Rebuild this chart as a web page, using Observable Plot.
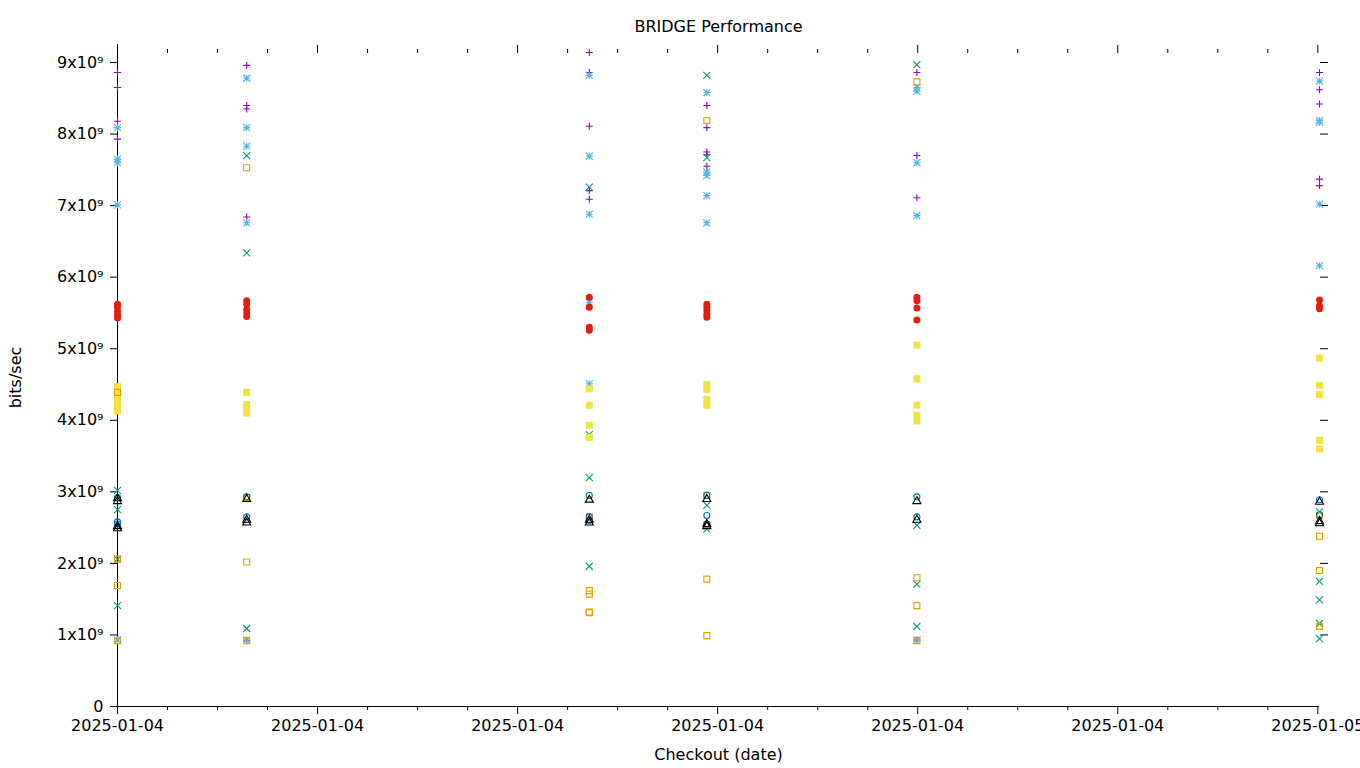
<!DOCTYPE html>
<html>
<head>
<meta charset="utf-8">
<script src="https://cdn.jsdelivr.net/npm/d3@7"></script>
<script src="https://cdn.jsdelivr.net/npm/@observablehq/plot@0.6"></script>
<style>
  html, body { margin: 0; padding: 0; background: #fff; }
  #chart svg { display: block; }
</style>
</head>
<body>
<div id="chart"></div>
<script>
// Checkout timestamps (one column of points per checkout)
const checkouts = ["2025-01-04T00:00Z", "2025-01-04T02:35Z", "2025-01-04T09:26Z", "2025-01-04T11:47Z", "2025-01-04T15:59Z", "2025-01-05T00:02Z"];

// Values in units of 1e9 bits/sec, one inner list per checkout
const purplePlus = [[8.86, 8.65, 8.18, 7.93], [8.96, 8.40, 8.35, 6.84, 0.92], [9.14, 8.86, 8.11, 7.21, 7.09], [8.40, 8.09, 7.75, 7.71, 7.55], [8.86, 7.70, 7.11, 0.93], [8.86, 8.62, 8.42, 7.37, 7.28]];
const greenTimes = [[3.02, 2.75, 2.06, 1.41], [7.70, 6.34, 1.09], [7.26, 3.80, 3.20, 1.96], [8.82, 7.67, 2.81, 2.48], [8.97, 2.53, 1.71, 1.12], [2.72, 1.75, 1.49, 1.16, 0.95]];
const skyStar = [[8.09, 7.65, 7.60, 7.01, 0.93], [8.78, 8.09, 7.83, 6.76, 0.93], [8.82, 7.69, 6.88, 5.65, 4.51], [8.58, 7.47, 7.42, 7.14, 6.76], [8.65, 8.60, 7.60, 6.86, 0.93], [8.74, 8.19, 8.16, 7.02, 6.16]];
const orangeBox = [[4.39, 2.06, 1.69, 0.92], [7.53, 2.92, 2.02, 0.92], [2.65, 1.62, 1.57, 1.32, 1.31], [8.19, 2.95, 2.54, 1.78, 0.99], [8.73, 1.80, 1.41, 0.92], [2.67, 2.38, 1.90, 1.12]];
const yellowFilledBox = [[4.47, 4.38, 4.30, 4.22, 4.13], [4.39, 4.22, 4.16, 4.10], [4.44, 4.21, 3.93, 3.76], [4.50, 4.43, 4.29, 4.21], [5.05, 4.58, 4.21, 4.07, 3.99], [4.87, 4.49, 4.36, 3.72, 3.60]];
const blueCircle = [[2.92, 2.58, 2.55], [2.93, 2.65], [2.95, 2.65, 2.60], [2.95, 2.67, 2.55], [2.93, 2.65], [2.89, 2.68]];
const redFilledCircle = [[5.62, 5.58, 5.52, 5.47, 5.43], [5.67, 5.62, 5.55, 5.50, 5.45], [5.72, 5.58, 5.30, 5.26], [5.62, 5.58, 5.53, 5.48, 5.44], [5.72, 5.67, 5.57, 5.40], [5.68, 5.60, 5.56]];
const blackTriangle = [[2.92, 2.88, 2.53, 2.50], [2.91, 2.62, 2.58], [2.90, 2.62, 2.58], [2.91, 2.56, 2.53], [2.88, 2.62], [2.87, 2.60, 2.57]];

const yTicks = [0, 1, 2, 3, 4, 5, 6, 7, 8, 9];
const exponentLabel = "⁹";

const xStart = new Date(checkouts[0]);
const xEnd = new Date(checkouts[checkouts.length - 1]);
const yMax = 9.14e9;

function rows(series) {
  const out = [];
  series.forEach((vals, i) => vals.forEach(v => out.push({t: new Date(checkouts[i]), v: v * 1e9})));
  return out;
}

function gp(kind) {
  return {
    draw(ctx, size) {
      const h = Math.sqrt(size / Math.PI);
      switch (kind) {
        case "plus":
          ctx.moveTo(-h, 0); ctx.lineTo(h, 0); ctx.moveTo(0, -h); ctx.lineTo(0, h); break;
        case "times":
          ctx.moveTo(-h, -h); ctx.lineTo(h, h); ctx.moveTo(-h, h); ctx.lineTo(h, -h); break;
        case "star":
          ctx.moveTo(-h, 0); ctx.lineTo(h, 0); ctx.moveTo(0, -h); ctx.lineTo(0, h);
          ctx.moveTo(-h, -h); ctx.lineTo(h, h); ctx.moveTo(-h, h); ctx.lineTo(h, -h); break;
        case "box":
          ctx.moveTo(-h, -h); ctx.lineTo(h, -h); ctx.lineTo(h, h); ctx.lineTo(-h, h); ctx.closePath(); break;
        case "circle":
          ctx.moveTo(h, 0); ctx.arc(0, 0, h, 0, 2 * Math.PI); ctx.closePath(); break;
        case "triangle":
          ctx.moveTo(0, -h * 1.1); ctx.lineTo(h * 1.15, h * 0.9); ctx.lineTo(-h * 1.15, h * 0.9); ctx.closePath(); break;
      }
    }
  };
}

const hour = 3600 * 1000;
const majorTicks = d3.range(0, 25, 4).map(h => new Date(+xStart + h * hour));
const minorTicks = d3.range(0, 24, 1).filter(h => h % 4 !== 0).map(h => new Date(+xStart + h * hour));

const font = "DejaVu Sans, sans-serif";
const fs = 16;

function dots(series, kind, color, r, filled) {
  return Plot.dot(rows(series), {
    x: "t", y: "v", symbol: gp(kind), r,
    stroke: filled ? "none" : color,
    fill: filled ? color : "none",
    strokeWidth: 1.1
  });
}

const chart = Plot.plot({
  width: 1360,
  height: 768,
  marginLeft: 117,
  marginRight: 41,
  marginTop: 52,
  marginBottom: 62,
  style: {fontFamily: font, fontSize: fs + "px", color: "#000", background: "#fff"},
  x: {type: "utc", domain: [xStart, xEnd], axis: null},
  y: {domain: [0, yMax], axis: null},
  marks: [
    // axis lines (left line runs up to the end of the top major ticks)
    Plot.ruleX([xStart], {y1: 0, y2: yMax * 1.0122, stroke: "#000", strokeWidth: 1}),
    Plot.ruleY([0], {stroke: "#000", strokeWidth: 1}),
    // y axis left with labels
    Plot.axisY(yTicks.map(d => d * 1e9), {
      anchor: "left", tickSize: 7, tickPadding: 7, fontSize: fs,
      tickFormat: d => d === 0 ? "0" : `${d / 1e9}x10${exponentLabel}`,
      label: null, stroke: "#000"
    }),
    // mirrored y ticks on right
    Plot.axisY(yTicks.filter(d => d > 0).map(d => d * 1e9), {
      anchor: "right", tickSize: 8, tickFormat: null, label: null, text: null
    }),
    // x axis bottom major
    Plot.axisX(majorTicks, {
      anchor: "bottom", tickSize: 8, tickPadding: 5, fontSize: fs,
      tickFormat: d3.utcFormat("%Y-%m-%d"), label: null
    }),
    Plot.axisX(minorTicks, {anchor: "bottom", tickSize: 4, tickFormat: null, label: null, text: null}),
    // top mirrored ticks
    Plot.axisX(majorTicks, {anchor: "top", tickSize: 8, tickFormat: null, label: null, text: null}),
    Plot.axisX(minorTicks, {anchor: "top", tickSize: 4, tickFormat: null, label: null, text: null}),
    // data
    dots(purplePlus, "plus", "#9400d3", 3.5, false),
    dots(greenTimes, "times", "#009e73", 3.5, false),
    dots(skyStar, "star", "#56b4e9", 3.5, false),
    dots(yellowFilledBox, "box", "#f0e442", 3.5, true),
    dots(orangeBox, "box", "#e69f00", 3, false),
    dots(blueCircle, "circle", "#0072b2", 3, false),
    dots(redFilledCircle, "circle", "#e51e10", 3.5, true),
    dots(blackTriangle, "triangle", "#000000", 3.5, false),
    // titles
    Plot.text(["BRIDGE Performance"], {frameAnchor: "top", lineAnchor: "middle", dy: -26, fontSize: fs, fill: "#000"}),
    Plot.text(["Checkout (date)"], {frameAnchor: "bottom", lineAnchor: "middle", dy: 48, fontSize: fs, fill: "#000"}),
    Plot.text(["bits/sec"], {frameAnchor: "left", textAnchor: "middle", lineAnchor: "middle", dx: -102, dy: -2, rotate: -90, fontSize: fs, fill: "#000"})
  ]
});

document.getElementById("chart").appendChild(chart);
</script>
</body>
</html>
